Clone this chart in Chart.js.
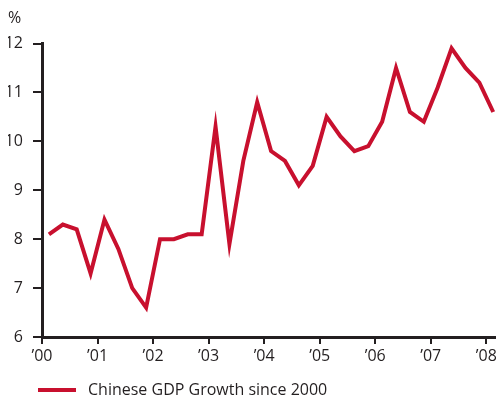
<!DOCTYPE html>
<html lang="en">
<head>
  <meta charset="UTF-8">
  <title>Chinese GDP Growth since 2000</title>
  <style>
    html, body {
      margin: 0;
      padding: 0;
      background: #fff;
    }
    #wrap {
      width: 496px;
      height: 397px;
      position: relative;
    }
  </style>
</head>
<body>
  <div id="wrap"><canvas id="chart"></canvas></div>

  <script src="https://cdn.jsdelivr.net/npm/chart.js"></script>
  <script>
    // quarterly GDP growth, % year on year
    const quarters = [
      '2000 Q1', '2000 Q2', '2000 Q3', '2000 Q4',
      '2001 Q1', '2001 Q2', '2001 Q3', '2001 Q4',
      '2002 Q1', '2002 Q2', '2002 Q3', '2002 Q4',
      '2003 Q1', '2003 Q2', '2003 Q3', '2003 Q4',
      '2004 Q1', '2004 Q2', '2004 Q3', '2004 Q4',
      '2005 Q1', '2005 Q2', '2005 Q3', '2005 Q4',
      '2006 Q1', '2006 Q2', '2006 Q3', '2006 Q4',
      '2007 Q1', '2007 Q2', '2007 Q3', '2007 Q4',
      '2008 Q1'
    ];
    const growth = [
      8.1, 8.3, 8.2, 7.3,
      8.4, 7.8, 7.0, 6.6,
      8.0, 8.0, 8.1, 8.1,
      10.3, 7.9, 9.6, 10.8,
      9.8, 9.6, 9.1, 9.5,
      10.5, 10.1, 9.8, 9.9,
      10.4, 11.5, 10.6, 10.4,
      11.1, 11.9, 11.5, 11.2,
      10.6
    ];
    const yearLabels = ['’00', '’01', '’02', '’03', '’04', '’05', '’06', '’07', '’08'];
    const yTicks = [6, 7, 8, 9, 10, 11, 12];

    const RED = '#c8102e';
    const INK = '#231f20';
    const FONT = "'Open Sans', sans-serif";
    const SIZE = 16;

    // each quarter sits in the middle of its slot on a quarter-based axis
    const points = growth.map((v, i) => ({ x: i + 0.5, y: v, q: quarters[i] }));

    // simple line-swatch legend under the axis
    const swatchLegend = {
      id: 'swatchLegend',
      afterDraw(chart) {
        const ctx = chart.ctx;
        const ds = chart.data.datasets[0];
        const y = 390;
        ctx.save();
        ctx.strokeStyle = ds.borderColor;
        ctx.lineWidth = 4;
        ctx.beginPath();
        ctx.moveTo(38, y);
        ctx.lineTo(76, y);
        ctx.stroke();
        ctx.fillStyle = INK;
        ctx.font = SIZE + 'px ' + FONT;
        ctx.textBaseline = 'middle';
        ctx.fillText(ds.label, 88, y);
        ctx.restore();
      }
    };

    const ctx = document.getElementById('chart').getContext('2d');
    new Chart(ctx, {
      type: 'line',
      data: {
        datasets: [{
          label: 'Chinese GDP Growth since 2000',
          data: points,
          borderColor: RED,
          backgroundColor: RED,
          borderWidth: 4,
          pointRadius: 0,
          tension: 0,
          borderJoinStyle: 'miter'
        }]
      },
      options: {
        responsive: true,
        maintainAspectRatio: false,
        animation: false,
        layout: {
          padding: { left: 8, right: 0, top: 0, bottom: 30 }
        },
        plugins: {
          legend: { display: false },
          tooltip: { enabled: false },
          title: {
            display: true,
            text: '%',
            align: 'start',
            color: INK,
            font: { family: FONT, size: SIZE, weight: 'normal' },
            padding: { top: 9, bottom: 15.3 }
          }
        },
        scales: {
          x: {
            type: 'linear',
            min: 0,
            max: 32.7,
            afterFit(axis) {
              axis.height = 30;
              axis.paddingLeft = 0;
              axis.paddingRight = 0;
            },
            afterBuildTicks(axis) {
              axis.ticks = yearLabels.map((_, i) => ({ value: i * 4 }));
            },
            border: { display: true, color: INK, width: 3 },
            grid: {
              drawOnChartArea: false,
              drawTicks: true,
              tickLength: 7,
              color: INK,
              lineWidth: 2
            },
            ticks: {
              color: INK,
              padding: 3,
              maxRotation: 0,
              font: { family: FONT, size: SIZE },
              callback: (v) => yearLabels[Math.round(v / 4)]
            }
          },
          y: {
            min: 6,
            max: 12,
            afterFit(axis) { axis.width = 34; },
            afterBuildTicks(axis) {
              axis.ticks = yTicks.map(v => ({ value: v }));
            },
            border: { display: true, color: INK, width: 3 },
            grid: {
              drawOnChartArea: false,
              drawTicks: true,
              tickLength: 9,
              color: INK,
              lineWidth: 2
            },
            ticks: {
              color: INK,
              padding: 10,
              font: { family: FONT, size: SIZE }
            }
          }
        }
      },
      plugins: [swatchLegend]
    });
  </script>
</body>
</html>
